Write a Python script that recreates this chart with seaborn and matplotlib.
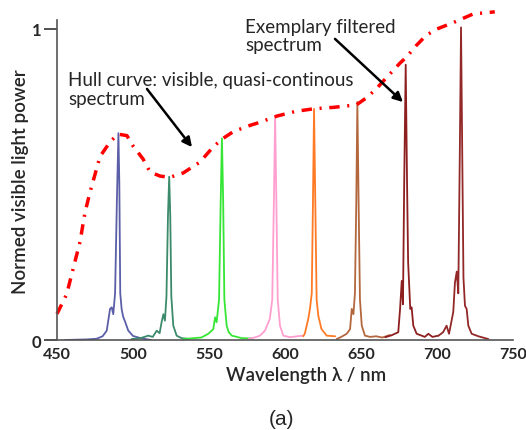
import numpy as np
import pandas as pd
import seaborn as sns
import matplotlib.pyplot as plt

# hull curve (red dash-dot)
hull_wl = [450, 456.4, 459.7, 465.1, 468.4, 471.7, 478.3, 484.9, 490.1, 496, 500, 506.6, 511.2,
           517.8, 524.3, 533, 544, 552.6, 558.6, 566, 577, 583.5, 594.7, 607, 618.4, 632, 647,
           654, 660.5, 668, 675.6, 680, 686, 693, 700, 710.5, 723.7, 738]
hull_val = [0.084, 0.148, 0.212, 0.315, 0.41, 0.475, 0.59, 0.637, 0.662, 0.657, 0.624, 0.582, 0.54,
            0.527, 0.523, 0.537, 0.572, 0.62, 0.646, 0.67, 0.69, 0.70, 0.72, 0.735, 0.743, 0.748, 0.756,
            0.78, 0.81, 0.85, 0.89, 0.91, 0.945, 0.98, 1.0, 1.02, 1.048, 1.055]

# filtered spectra
blue_wl = [455, 470, 476, 480, 482.7, 484.9, 486, 487, 488.2, 489.4, 490.4, 491, 491.6, 492.5, 493.5,
           494.7, 496.9, 500, 505, 512]
blue_val = [0.0, 0.002, 0.004, 0.012, 0.03, 0.10, 0.105, 0.083, 0.15, 0.45, 0.665, 0.5, 0.15, 0.10,
            0.075, 0.06, 0.03, 0.013, 0.006, 0.0]

teal_wl = [499, 505, 510, 513, 515.6, 517.5, 518.9, 520, 521, 522, 523, 523.8, 524.5, 525.2, 526.5,
           528.7, 532, 536]
teal_val = [0.003, 0.006, 0.014, 0.01, 0.03, 0.022, 0.06, 0.083, 0.062, 0.14, 0.4, 0.525, 0.4, 0.14,
            0.046, 0.014, 0.006, 0.004]

green_wl = [533, 540, 545, 549.5, 552.8, 554, 555, 556.6, 557.7, 558.5, 559.3, 560.1, 561.6, 563, 565,
            571.5, 578]
green_val = [0.003, 0.006, 0.008, 0.02, 0.035, 0.073, 0.057, 0.13, 0.45, 0.648, 0.45, 0.13, 0.046,
             0.025, 0.014, 0.006, 0.005]

pink_wl = [576, 580, 583.5, 586.8, 590, 591.6, 592.7, 593.5, 594.3, 595.2, 596.7, 598.9, 603.3, 608, 612]
pink_val = [0.004, 0.008, 0.014, 0.03, 0.068, 0.13, 0.45, 0.718, 0.45, 0.13, 0.046, 0.014, 0.009,
            0.012, 0.014]

orange_wl = [612, 613, 615.3, 616.4, 617.6, 618.4, 619.1, 619.9, 620.8, 621.9, 624, 627.4, 633]
orange_val = [0.012, 0.02, 0.068, 0.10, 0.15, 0.45, 0.743, 0.45, 0.13, 0.078, 0.035, 0.014, 0.012]

brown_wl = [634, 637, 640.6, 642.8, 643.9, 645, 646, 646.9, 647.6, 648.4, 649.3, 650.5, 652.6, 656,
            660, 664, 669]
brown_val = [0.003, 0.01, 0.02, 0.035, 0.10, 0.083, 0.15, 0.45, 0.765, 0.45, 0.13, 0.046, 0.014,
             0.01, 0.012, 0.008, 0.016]

red1_wl = [666, 670, 674.5, 675.7, 676.8, 677.6, 678.4, 679.4, 680.3, 681, 682.4, 683.3, 684.4, 686.6,
           689.9, 692, 694.3, 697, 700.9]
red1_val = [0.009, 0.015, 0.025, 0.10, 0.19, 0.115, 0.5, 0.885, 0.5, 0.25, 0.10, 0.105, 0.046, 0.02,
            0.014, 0.01, 0.02, 0.01, 0.014]

red2_wl = [701, 704, 706.3, 707.9, 710.7, 711.8, 713, 714, 715, 715.8, 716.6, 717.4, 718.4, 719.5,
           720.6, 722.8, 727.2, 733.8]
red2_val = [0.014, 0.025, 0.046, 0.02, 0.09, 0.185, 0.22, 0.15, 0.6, 1.005, 0.6, 0.2, 0.11, 0.10,
            0.046, 0.02, 0.012, 0.003]

spectra = [
    (blue_wl, blue_val, '#5b5fa8'),
    (teal_wl, teal_val, '#3c8a6c'),
    (green_wl, green_val, '#35e635'),
    (pink_wl, pink_val, '#ff9fd0'),
    (orange_wl, orange_val, '#ff7a25'),
    (brown_wl, brown_val, '#b3673d'),
    (red1_wl, red1_val, '#8e1f1f'),
    (red2_wl, red2_val, '#922828'),
]

xticks = [450, 500, 550, 600, 650, 700, 750]
yticks = [0, 1]

sns.set_theme(style='white')
plt.rcParams['font.family'] = ['Lato', 'DejaVu Sans']

fig = plt.figure(figsize=(5.26, 4.31), dpi=100)
ax = fig.add_axes([0.1084, 0.2088, 0.8669, 0.765])

for wl, val, c in spectra:
    sns.lineplot(x=wl, y=val, color=c, lw=1.3, ax=ax)

sns.lineplot(x=hull_wl, y=hull_val, color='#ff0000', lw=2.5, linestyle=(0, (3, 2.2, 0.6, 2.2)),
             ax=ax, clip_on=False)

ax.set_xlim(450, 750)
ax.set_ylim(0, 1.06)
ax.set_xticks(xticks)
ax.set_yticks(yticks)
ax.set_yticklabels(['0', '1'])

sns.despine(ax=ax)
ax.spines['left'].set_bounds(0, 1.03)
for s in ['left', 'bottom']:
    ax.spines[s].set_color('#555555')
    ax.spines[s].set_linewidth(1.2)

ax.tick_params(axis='x', direction='in', length=4, width=1, color='#333333', pad=5,
               labelsize=11.5)
ax.tick_params(axis='y', direction='out', length=9.5, width=1.2, color='#333333', pad=2,
               labelsize=12, left=True)
for lab in ax.get_xticklabels() + ax.get_yticklabels():
    lab.set_fontweight('bold')

ax.set_xlabel('Wavelength λ / nm', fontsize=13.5, fontweight='semibold')
ax.set_ylabel('Normed visible light power', fontsize=13.5, fontweight='semibold')
ax.xaxis.set_label_coords(0.546, -0.08)
ax.yaxis.set_label_coords(-0.062, 0.482)

ax.text(457.2, 0.865, 'Hull curve: visible, quasi-continous\nspectrum', fontsize=13.5,
        ha='left', va='top', linespacing=1.15)
ax.annotate('', xy=(538.8, 0.62), xytext=(509.2, 0.807),
            arrowprops=dict(arrowstyle='-|>', lw=1.8, color='black', mutation_scale=14,
                            shrinkA=0, shrinkB=0))

ax.text(573.7, 1.035, 'Exemplary filtered\nspectrum', fontsize=13.5,
        ha='left', va='top', linespacing=1.1)
ax.annotate('', xy=(677.6, 0.765), xytext=(632.9, 0.968),
            arrowprops=dict(arrowstyle='-|>', lw=1.8, color='black', mutation_scale=14,
                            shrinkA=0, shrinkB=0))

fig.text(282 / 526, 1 - 420 / 431, '(a)', ha='center', va='center', fontsize=15,
         family='Liberation Sans')

fig.savefig('out.png', dpi=100)
